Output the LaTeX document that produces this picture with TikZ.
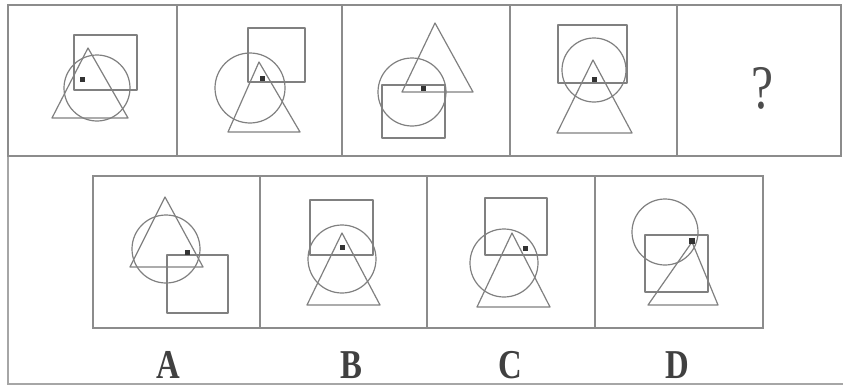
\documentclass[tikz,border=0pt]{standalone}
\usepackage{fontspec}
\setmainfont{Liberation Serif}
\begin{document}
\begin{tikzpicture}[x=1pt,y=-1pt,
  frame/.style={draw=black!45,line width=2pt},
  outer/.style={draw=black!35,line width=1.3pt},
  shp/.style={draw=black!50,line width=1.2pt,line join=round},
  dotm/.style={fill=black!80,draw=none},
  lbl/.style={font=\fontsize{41}{41}\selectfont\bfseries,text=black!75,xscale=0.8,anchor=base,inner sep=0pt}]
\useasboundingbox (0,0) rectangle (843,388);
\fill[white] (0,0) rectangle (843,388);
% outer frame
\draw[outer] (8,156) -- (8,384) -- (843,384);
% top row frames
\draw[frame] (8,5) rectangle (841,156);
\foreach \xx in {177,342,510,677} \draw[frame] (\xx,5) -- (\xx,156);
% bottom row frames
\draw[frame] (93,176) rectangle (763,328);
\foreach \xx in {260,427,595} \draw[frame] (\xx,176) -- (\xx,328);
% Panel 1
\draw[shp] (74,35) rectangle (137,90);
\draw[shp] (88,48) -- (52,118) -- (128,118) -- cycle;
\draw[shp] (97,88) circle[radius=33pt];
\fill[dotm] (79.5,76.5) rectangle (85,81.5);
% Panel 2
\draw[shp] (248,28) rectangle (305,82);
\draw[shp] (259,62) -- (228,132) -- (300,132) -- cycle;
\draw[shp] (250,88) circle[radius=35pt];
\fill[dotm] (259.5,75.5) rectangle (264.5,80.5);
% Panel 3
\draw[shp] (382,85) rectangle (445,138);
\draw[shp] (435,23) -- (402,92) -- (473,92) -- cycle;
\draw[shp] (412,92) circle[radius=34pt];
\fill[dotm] (420.5,85.5) rectangle (425.5,90.5);
% Panel 4
\draw[shp] (558,25) rectangle (627,83);
\draw[shp] (594,70) circle[radius=32pt];
\draw[shp] (593,60) -- (557,133) -- (632,133) -- cycle;
\fill[dotm] (591.5,76.5) rectangle (596.5,81.5);
% Panel 5
\node[font=\fontsize{62}{62}\selectfont,text=black!70,xscale=0.8,inner sep=0pt] (q) at (762,88) {?};
% Option A
\draw[shp] (165,197) -- (130,267) -- (203,267) -- cycle;
\draw[shp] (166,249) circle[radius=34pt];
\draw[shp] (167,255) rectangle (228,313);
\fill[dotm] (184.5,249.5) rectangle (189.5,254.5);
% Option B
\draw[shp] (310,200) rectangle (373,255);
\draw[shp] (342,259) circle[radius=34pt];
\draw[shp] (342,233) -- (307,305) -- (380,305) -- cycle;
\fill[dotm] (339.5,244.5) rectangle (344.5,249.5);
% Option C
\draw[shp] (485,198) rectangle (547,255);
\draw[shp] (504,263) circle[radius=34pt];
\draw[shp] (512,233) -- (477,307) -- (550,307) -- cycle;
\fill[dotm] (522.5,245.5) rectangle (527.5,250.5);
% Option D
\draw[shp] (665,232) circle[radius=33pt];
\draw[shp] (645,235) rectangle (708,292);
\draw[shp] (692,242) -- (648,305) -- (718,305) -- cycle;
\fill[dotm] (689,238) rectangle (695,244);
% labels
\node[lbl] (la) at (168,378) {A};
\node[lbl] (lb) at (351,378) {B};
\node[lbl] (lc) at (510,378) {C};
\node[lbl] (ld) at (677,378) {D};
\end{tikzpicture}
\end{document}
